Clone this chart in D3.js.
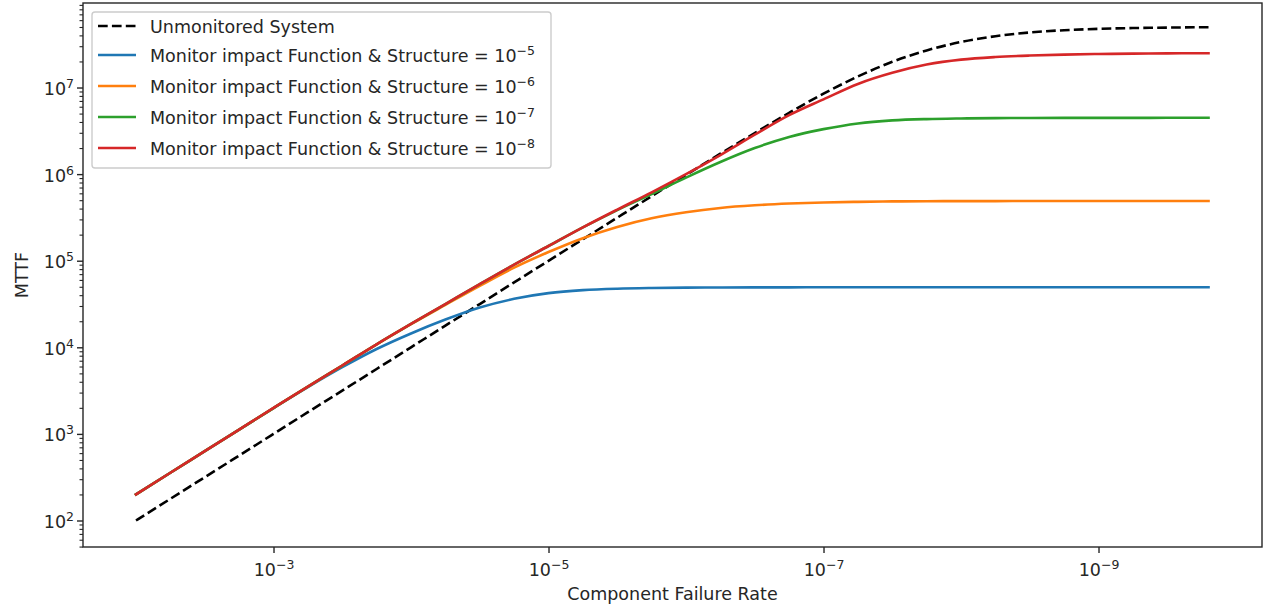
<!DOCTYPE html>
<html>
<head>
<meta charset="utf-8">
<script src="https://cdn.jsdelivr.net/npm/d3@7"></script>
<style>
  body { margin: 0; background: #fff; }
  text { font-family: "DejaVu Sans", sans-serif; fill: #262626; }
</style>
</head>
<body>
<svg id="chart" width="1265" height="609"></svg>
<script>
// failure rate = 10^rateExp
const rateExp = [-2, -2.25, -2.5, -2.75, -3, -3.25, -3.5, -3.75, -4, -4.25, -4.5, -4.75,
  -5, -5.25, -5.5, -5.75, -6, -6.25, -6.5, -6.75, -7, -7.25, -7.5, -7.75,
  -8, -8.25, -8.5, -8.75, -9, -9.25, -9.5, -9.75, -9.8];

const unmonitored = [100, 178, 316, 562, 1000, 1780, 3160, 5620, 10000, 17800, 31600, 56200,
  99800, 177000, 314000, 556000, 980000, 1.72e6, 2.98e6, 5.1e6, 8.5e6, 1.34e7, 1.98e7, 2.68e7,
  3.36e7, 3.91e7, 4.32e7, 4.59e7, 4.76e7, 4.86e7, 4.92e7, 4.96e7, 4.96e7];

const monitor5 = [200, 356, 631, 1120, 1990, 3470, 5890, 9550, 14450, 20900, 28800, 36300,
  42200, 45700, 47500, 48400, 48900, 49100, 49200, 49250, 49300, 49300, 49300, 49300,
  49300, 49300, 49300, 49300, 49300, 49300, 49300, 49300, 49300];

const monitor6 = [200, 356, 631, 1120, 1990, 3520, 6160, 10800, 18500, 30900, 51300, 83200,
  125900, 182000, 245500, 309000, 363000, 407000, 436500, 457000, 471000, 478600, 484000, 486400,
  487500, 488200, 488700, 488900, 489000, 489000, 489000, 489000, 489000];

const monitor7 = [200, 356, 631, 1120, 1990, 3520, 6160, 10840, 18600, 31600, 53700, 90100,
  147800, 242500, 384600, 589000, 912000, 1.38e6, 2.0e6, 2.69e6, 3.31e6, 3.85e6, 4.17e6, 4.32e6,
  4.39e6, 4.43e6, 4.45e6, 4.46e6, 4.46e6, 4.46e6, 4.47e6, 4.47e6, 4.47e6];

const monitor8 = [200, 356, 631, 1122, 1995, 3524, 6166, 10840, 18620, 31620, 53700, 90160,
  147900, 242700, 389000, 616600, 1.0e6, 1.66e6, 2.85e6, 4.79e6, 7.3e6, 1.1e7, 1.48e7, 1.84e7,
  2.1e7, 2.25e7, 2.34e7, 2.4e7, 2.44e7, 2.46e7, 2.48e7, 2.49e7, 2.49e7];

const monitorExp = [-5, -6, -7, -8];
const xTickExp = [-3, -5, -7, -9];
const yTickExp = [2, 3, 4, 5, 6, 7];

const colors = ['#1f77b4', '#ff7f0e', '#2ca02c', '#d62728'];

const plotLeft = 83, plotRight = 1262, plotTop = 3, plotBottom = 547;

const svg = d3.select('#chart');

const x = d3.scaleLog().domain([Math.pow(10, -1.6145), Math.pow(10, -10.189)]).range([plotLeft, plotRight]);
const y = d3.scaleLog().domain([Math.pow(10, 1.694), Math.pow(10, 7.976)]).range([plotBottom, plotTop]);

const sup = s => s.replace('-', '\u2212');

// x axis
const xAxis = svg.append('g')
  .attr('transform', `translate(0, ${plotBottom})`)
  .call(d3.axisBottom(x).tickValues(xTickExp.map(e => Math.pow(10, e))).tickSize(6).tickPadding(6).tickSizeOuter(0));
xAxis.select('.domain').remove();
xAxis.attr('color', '#262626').attr('font-size', 17.5).attr('font-family', 'DejaVu Sans');
xAxis.selectAll('.tick line').attr('stroke-width', 1.4);
xAxis.selectAll('.tick text').each(function (d, i) {
  const t = d3.select(this);
  t.text(null).attr('dy', null).attr('y', 29);
  t.append('tspan').text('10');
  t.append('tspan').attr('dy', -7).attr('font-size', 12.5).text(sup(String(xTickExp[i])));
});

// y axis, major
const yAxis = svg.append('g')
  .attr('transform', `translate(${plotLeft}, 0)`)
  .call(d3.axisLeft(y).tickValues(yTickExp.map(e => Math.pow(10, e))).tickSize(6).tickPadding(6).tickSizeOuter(0));
yAxis.select('.domain').remove();
yAxis.attr('color', '#262626').attr('font-size', 17.5).attr('font-family', 'DejaVu Sans');
yAxis.selectAll('.tick line').attr('stroke-width', 1.4);
yAxis.selectAll('.tick text').each(function (d, i) {
  const t = d3.select(this);
  t.text(null).attr('dy', null).attr('y', 7).attr('x', -9);
  t.append('tspan').text('10');
  t.append('tspan').attr('dy', -7).attr('font-size', 12.5).text(String(yTickExp[i]));
});

// y axis, minor
const minorVals = [];
for (let e = 1; e <= 7; e++) {
  for (let m = 2; m <= 9; m++) {
    const v = m * Math.pow(10, e);
    if (v >= y.domain()[0] && v <= y.domain()[1]) minorVals.push(v);
  }
}
const yMinor = svg.append('g')
  .attr('transform', `translate(${plotLeft}, 0)`)
  .call(d3.axisLeft(y).tickValues(minorVals).tickSize(3.5).tickFormat('').tickSizeOuter(0));
yMinor.select('.domain').remove();
yMinor.attr('color', '#262626');
yMinor.selectAll('.tick line').attr('stroke-width', 1.1);

// frame
svg.append('rect')
  .attr('x', plotLeft).attr('y', plotTop).attr('width', plotRight - plotLeft).attr('height', plotBottom - plotTop)
  .attr('fill', 'none').attr('stroke', '#262626').attr('stroke-width', 1.4);

// axis titles
svg.append('text').attr('x', (plotLeft + plotRight) / 2).attr('y', 600)
  .attr('text-anchor', 'middle').attr('font-size', 17.5).text('Component Failure Rate');
svg.append('text').attr('transform', `translate(28, ${(plotTop + plotBottom) / 2}) rotate(-90)`)
  .attr('text-anchor', 'middle').attr('font-size', 17.5).text('MTTF');

// lines
const line = vals => d3.line()
  .x((d, i) => x(Math.pow(10, rateExp[i])))
  .y(d => y(d))
  .curve(d3.curveMonotoneX)(vals);

const plot = svg.append('g');
plot.append('path').attr('d', line(unmonitored))
  .attr('fill', 'none').attr('stroke', '#000').attr('stroke-width', 2.6)
  .attr('stroke-dasharray', '9.7,4.2');

[monitor5, monitor6, monitor7, monitor8].forEach((vals, k) => {
  plot.append('path').attr('d', line(vals))
    .attr('fill', 'none').attr('stroke', colors[k]).attr('stroke-width', 2.6)
    .attr('stroke-linejoin', 'round').attr('stroke-linecap', 'square');
});

// legend
const legend = svg.append('g');
legend.append('rect').attr('x', 92).attr('y', 12).attr('width', 459).attr('height', 156).attr('rx', 3)
  .attr('fill', '#fff').attr('fill-opacity', 0.8).attr('stroke', '#cccccc').attr('stroke-width', 1.4);

const rows = [26, 55, 86, 117, 148];
legend.append('line').attr('x1', 98).attr('x2', 136).attr('y1', rows[0]).attr('y2', rows[0])
  .attr('stroke', '#000').attr('stroke-width', 2.6).attr('stroke-dasharray', '9.7,4.2');
legend.append('text').attr('x', 150).attr('y', rows[0] + 7).attr('font-size', 17.5).text('Unmonitored System');

monitorExp.forEach((e, k) => {
  const ry = rows[k + 1];
  legend.append('line').attr('x1', 98).attr('x2', 136).attr('y1', ry).attr('y2', ry)
    .attr('stroke', colors[k]).attr('stroke-width', 2.6);
  const t = legend.append('text').attr('x', 150).attr('y', ry + 7).attr('font-size', 17.5);
  t.append('tspan').text('Monitor impact Function & Structure = 10');
  t.append('tspan').attr('dy', -7).attr('font-size', 12.5).text(sup(String(e)));
});
</script>
</body>
</html>
